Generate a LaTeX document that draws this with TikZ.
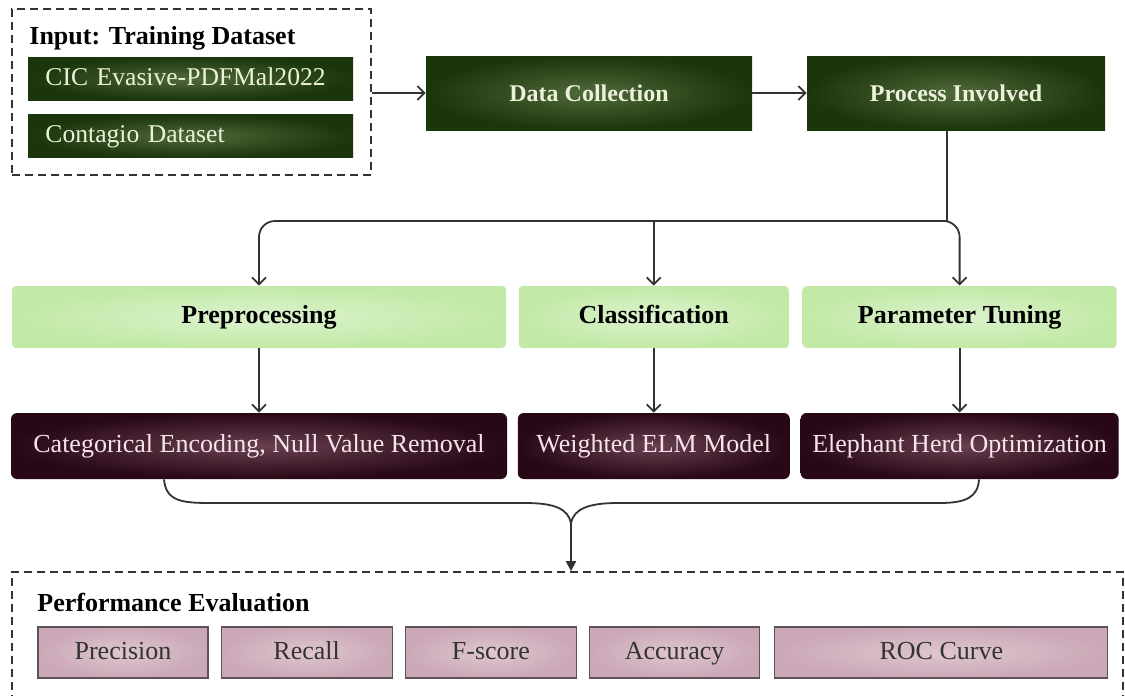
\documentclass[tikz,border=0pt]{standalone}
\usepackage{fontspec}
\setmainfont{Liberation Serif}
\usepackage{tikz}
\usetikzlibrary{arrows.meta,positioning,calc}

\definecolor{dkgreen}{RGB}{26,54,10}
\definecolor{dkgreenin}{RGB}{80,104,60}
\definecolor{dkgreentxt}{RGB}{236,242,218}
\definecolor{ltgreen}{RGB}{194,233,166}
\definecolor{ltgreenin}{RGB}{220,243,206}
\definecolor{maroon}{RGB}{40,8,22}
\definecolor{maroonin}{RGB}{104,64,80}
\definecolor{maroontxt}{RGB}{246,228,236}
\definecolor{pinkout}{RGB}{203,168,183}
\definecolor{pinkin}{RGB}{222,198,208}
\definecolor{pinkedge}{RGB}{92,82,88}

\begin{document}
\begin{tikzpicture}[
  x=0.5pt, y=-0.5pt,
  font=\fontsize{13}{15}\selectfont,
  node distance=6pt,
  dashbox/.style={draw=black!80, line width=0.8pt, dash pattern=on 4pt off 2.5pt, inner sep=0pt},
  srcbox/.style={inner color=dkgreenin, outer color=dkgreen, text=dkgreentxt, minimum width=162.5pt, minimum height=21.5pt, text width=145pt, align=left, inner sep=0pt, text height=9pt, text depth=2.5pt, font=\fontsize{12.8}{15}\selectfont},
  stagebox/.style={inner color=dkgreenin, outer color=dkgreen, text=dkgreentxt, minimum height=37pt, inner sep=0pt, font=\fontsize{12}{14}\selectfont\bfseries},
  phasebox/.style={rounded corners=2pt, inner color=ltgreenin, outer color=ltgreen, minimum height=31pt, inner sep=0pt, text height=9pt, text depth=2.5pt, font=\fontsize{13}{15}\selectfont\bfseries},
  methodbox/.style={rounded corners=3pt, inner color=maroonin, outer color=maroon, text=maroontxt, minimum height=33pt, inner sep=0pt, text height=9pt, text depth=2.5pt},
  metricbox/.style={draw=pinkedge, line width=0.6pt, inner color=pinkin, outer color=pinkout, text=black!80, minimum height=25.5pt, inner sep=0pt, text height=9pt, text depth=2.5pt},
  heading/.style={anchor=west, inner sep=0pt, font=\fontsize{13}{15}\selectfont\bfseries},
  link/.style={draw=black!80, line width=0.9pt},
  arrow/.style={link, -{Straight Barb[length=3.5pt,width=7pt]}},
  droparrow/.style={link, -{Triangle[length=5pt,width=5pt]}}
]
\useasboundingbox (0,0) rectangle (1125,696);
\clip (0,0) rectangle (1125,696);

% input datasets
\node[dashbox, minimum width=179.5pt, minimum height=83pt] (input) at (191.5,92) {};
\node[heading] (intitle) at (29,38) {Input: Training Dataset};
\node[srcbox] (cic) at (190.5,78.5) {CIC Evasive-PDFMal2022};
\node[srcbox, below=7pt of cic] (contagio) {Contagio Dataset};

% top row
\node[stagebox, minimum width=163pt] (collect) at (589,93) {Data Collection};
\node[stagebox, minimum width=149pt] (proc) at (956,93) {Process Involved};

% phases
\node[phasebox, minimum width=247pt] (prep) at (259,317) {Preprocessing};
\node[phasebox, minimum width=135pt, right=6pt of prep] (classif) {Classification};
\node[phasebox, minimum width=157pt, right=6.5pt of classif] (tune) {Parameter Tuning};

% methods
\node[methodbox, minimum width=248pt] (catenc) at (259,446) {Categorical Encoding, Null Value Removal};
\node[methodbox, minimum width=136pt, right=5pt of catenc] (welm) {Weighted ELM Model};
\node[methodbox, minimum width=159pt, right=5pt of welm] (eho) {Elephant Herd Optimization};

% evaluation
\node[dashbox, minimum width=555.5pt, minimum height=69pt] (perf) at (567.5,641) {};
\node[heading] (perftitle) at (37,602) {Performance Evaluation};
\node[metricbox, minimum width=85pt] (prec) at (123,652.5) {Precision};
\node[metricbox, minimum width=85.5pt, right=6pt of prec] (recall) {Recall};
\node[metricbox, minimum width=85.5pt, right=6pt of recall] (fscore) {F-score};
\node[metricbox, minimum width=85pt, right=6pt of fscore] (acc) {Accuracy};
\node[metricbox, minimum width=166.5pt, right=7pt of acc] (roc) {ROC Curve};

% connectors
\draw[arrow] (input.east |- collect) -- (collect.west);
\draw[arrow] (collect.east) -- (proc.west);
\coordinate (bus) at (947,221);
\draw[link] (proc.south -| bus) -- (bus);
\draw[arrow, rounded corners=8pt] (bus) -| (prep.north);
\draw[arrow, rounded corners=8pt] (bus) ++(-20,0) -| (tune.north);
\draw[arrow] (bus -| classif.north) -- (classif.north);
\draw[arrow] (prep.south) -- (catenc.north);
\draw[arrow] (classif.south) -- (welm.north);
\draw[arrow] (tune.south) -- (eho.north);

% brace
\coordinate (brtip) at (571,523);
\draw[link] (catenc.south -| 164,0) .. controls (166,503) and (185,503) .. (215,503)
  -- (525,503) .. controls (555,503) and (568,509) .. (brtip)
  .. controls (574,509) and (588,503) .. (618,503)
  -- (940,503) .. controls (966,503) and (978,497) .. (eho.south -| 979,0);
\draw[droparrow] (brtip) -- (perf.north -| brtip);
\end{tikzpicture}
\end{document}
